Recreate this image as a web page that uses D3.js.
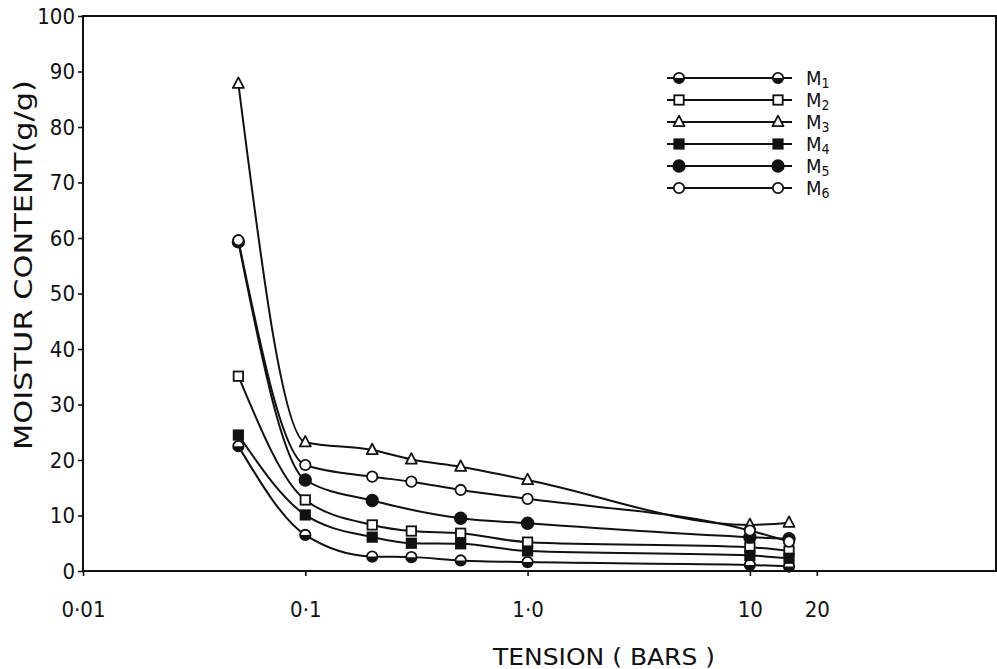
<!DOCTYPE html>
<html>
<head>
<meta charset="utf-8">
<script src="https://cdn.jsdelivr.net/npm/d3@7"></script>
<style>
  html, body { margin: 0; padding: 0; background: #fff; }
  svg { display: block; }
  text { font-family: "DejaVu Sans Condensed", "DejaVu Sans", sans-serif; fill: #111; }
</style>
</head>
<body>
<svg id="chart" width="997" height="669"></svg>
<script>
// ---------------- data ----------------
const tension = [0.05, 0.1, 0.2, 0.3, 0.5, 1, 10, 15];
const seriesNames = ["M1", "M2", "M3", "M4", "M5", "M6"];
const m1 = [22.5, 6.5, 2.6, 2.5, 1.9, 1.6, 1.1, 0.8];
const m2 = [35.1, 12.8, 8.3, 7.2, 6.8, 5.2, 4.3, 3.6];
const m3 = [87.8, 23.2, 21.8, 20.1, 18.8, 16.4, 8.3, 8.7];
const m4 = [24.5, 10.1, 6.1, 5.0, 4.9, 3.6, 2.8, 2.3];
const m5 = [59.3, 16.4, 12.7, null, 9.5, 8.6, 6.1, 5.8];
const m6 = [59.6, 19.1, 17.0, 16.1, 14.6, 13.0, 7.3, 5.3];
const markerTypes = ["halfcircle", "opensquare", "opentriangle", "filledsquare", "filledcircle", "opencircle"];
const xTickValues = [0.01, 0.1, 1, 10, 20];
const xTickLabels = ["0·01", "0·1", "1·0", "10", "20"];
const yTickValues = [0, 10, 20, 30, 40, 50, 60, 70, 80, 90, 100];
const xTitle = "TENSION ( BARS )";
const yTitle = "MOISTUR CONTENT(g/g)";

const seriesValues = [m1, m2, m3, m4, m5, m6];

// ---------------- layout ----------------
const svg = d3.select("#chart");
const x = d3.scaleLog().domain([0.01, 128]).range([83, 996]);
const y = d3.scaleLinear().domain([0, 100]).range([571, 16]);

// frame
svg.append("rect")
  .attr("x", x.range()[0]).attr("y", y(100))
  .attr("width", x.range()[1] - x.range()[0])
  .attr("height", y(0) - y(100))
  .attr("fill", "none").attr("stroke", "#111").attr("stroke-width", 2);

// y axis
const yAxis = svg.append("g")
  .attr("transform", `translate(${x.range()[0]},0)`)
  .call(d3.axisLeft(y).tickValues(yTickValues).tickSize(5).tickPadding(3).tickFormat(d3.format("d")));
yAxis.select(".domain").remove();
yAxis.selectAll("line").attr("stroke", "#111").attr("stroke-width", 1.6);
yAxis.selectAll("text").attr("font-size", 22).attr("fill", "#111")
  .style("font-family", '"DejaVu Sans Condensed", sans-serif');

// x axis
const xAxis = svg.append("g")
  .attr("transform", `translate(0,${y(0)})`)
  .call(d3.axisBottom(x).tickValues(xTickValues).tickSize(5)
    .tickFormat((d, i) => xTickLabels[i]));
xAxis.select(".domain").remove();
xAxis.selectAll("line").attr("stroke", "#111").attr("stroke-width", 1.6);
xAxis.selectAll("text").attr("font-size", 22).attr("fill", "#111")
  .attr("dy", null).attr("y", 46)
  .style("font-family", '"DejaVu Sans Condensed", sans-serif');

// titles
svg.append("text")
  .attr("x", 604).attr("y", 665)
  .attr("text-anchor", "middle")
  .attr("font-size", 23)
  .attr("textLength", 222).attr("lengthAdjust", "spacingAndGlyphs")
  .text(xTitle);
svg.append("text")
  .attr("transform", "translate(32,265) rotate(-90)")
  .attr("text-anchor", "middle")
  .attr("font-size", 24)
  .attr("textLength", 370).attr("lengthAdjust", "spacingAndGlyphs")
  .text(yTitle);

// ---------------- lines ----------------
const line = d3.line()
  .defined(d => d.v !== null)
  .x(d => x(d.t)).y(d => y(d.v))
  .curve(d3.curveMonotoneX);

const seriesData = seriesValues.map((vals, i) => ({
  name: seriesNames[i],
  marker: markerTypes[i],
  points: tension.map((t, j) => ({ t, v: vals[j] })).filter(p => p.v !== null)
}));

svg.append("g").selectAll("path")
  .data(seriesData)
  .join("path")
  .attr("d", d => line(d.points))
  .attr("fill", "none")
  .attr("stroke", "#111")
  .attr("stroke-width", 2);

// ---------------- markers ----------------
function drawMarker(g, type, cx, cy) {
  const s = 5.2;
  if (type === "halfcircle") {
    g.append("circle").attr("cx", cx).attr("cy", cy).attr("r", s)
      .attr("fill", "#fff").attr("stroke", "#111").attr("stroke-width", 1.8);
    g.append("path")
      .attr("d", `M${cx - s},${cy} A${s},${s} 0 0 0 ${cx + s},${cy} Z`)
      .attr("fill", "#111");
  } else if (type === "opencircle" || type === "filledcircle") {
    g.append("circle").attr("cx", cx).attr("cy", cy).attr("r", s + (type === "filledcircle" ? 0.6 : 0))
      .attr("fill", type === "filledcircle" ? "#111" : "#fff")
      .attr("stroke", "#111").attr("stroke-width", 1.8);
  } else if (type === "opensquare" || type === "filledsquare") {
    g.append("rect").attr("x", cx - s + 0.5).attr("y", cy - s + 0.5)
      .attr("width", 2 * s - 1).attr("height", 2 * s - 1)
      .attr("fill", type === "filledsquare" ? "#111" : "#fff")
      .attr("stroke", "#111").attr("stroke-width", 1.8);
  } else if (type === "opentriangle") {
    const h = 10.5;
    g.append("path")
      .attr("d", `M${cx},${cy - h * 0.6} L${cx + 5.5},${cy + h * 0.4} L${cx - 5.5},${cy + h * 0.4} Z`)
      .attr("fill", "#fff").attr("stroke", "#111").attr("stroke-width", 1.8)
      .attr("stroke-linejoin", "round");
  }
}

const markG = svg.append("g");
seriesData.forEach(s => {
  s.points.forEach(p => drawMarker(markG, s.marker, x(p.t), y(p.v)));
});

// ---------------- legend ----------------
const legend = svg.append("g");
seriesData.forEach((s, i) => {
  const ly = 78 + i * 22;
  legend.append("line")
    .attr("x1", 667).attr("x2", 792).attr("y1", ly).attr("y2", ly)
    .attr("stroke", "#111").attr("stroke-width", 2);
  drawMarker(legend, s.marker, 679, ly);
  drawMarker(legend, s.marker, 778, ly);
  const t = legend.append("text")
    .attr("x", 806).attr("y", ly + 7)
    .attr("font-size", 20);
  t.append("tspan").text(s.name.slice(0, 1));
  t.append("tspan").attr("dy", 3).attr("font-size", 14).text(s.name.slice(1));
});
</script>
</body>
</html>
